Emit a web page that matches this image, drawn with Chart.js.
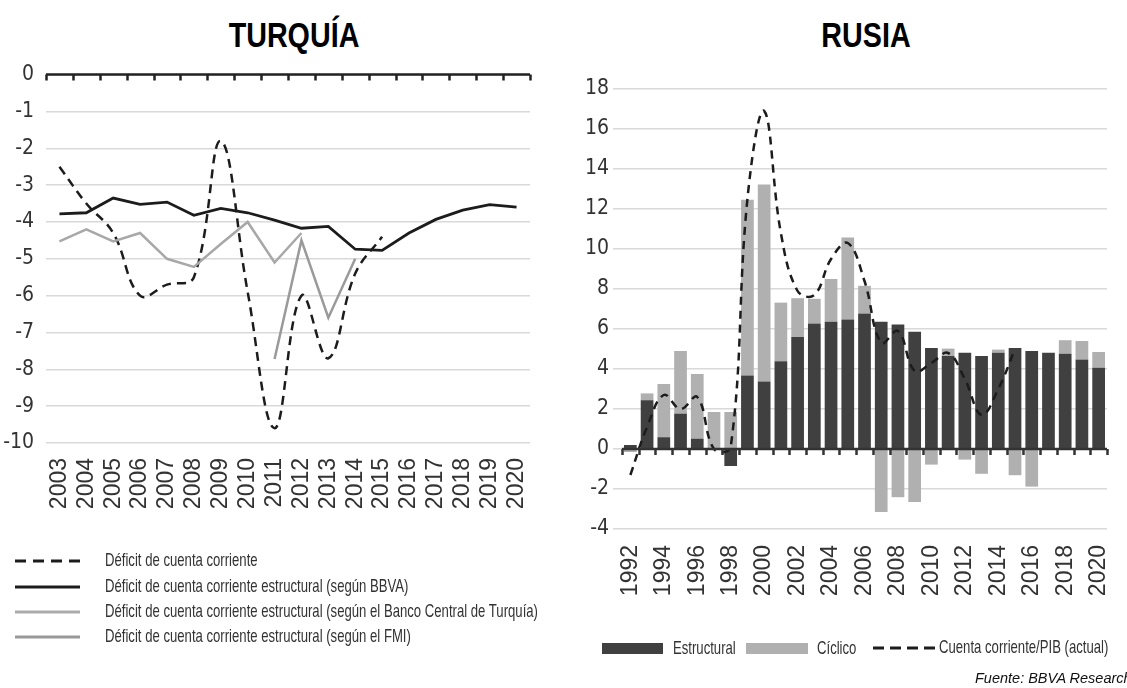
<!DOCTYPE html>
<html>
<head>
<meta charset="utf-8">
<script src="https://cdn.jsdelivr.net/npm/chart.js@4.4.0/dist/chart.umd.min.js"></script>
<style>
  body { margin: 0; background: #fff; }
  #page { position: relative; width: 1127px; height: 688px; overflow: hidden; font-family: "Liberation Sans", Arial, sans-serif; }
  canvas { position: absolute; }
  .title { position: absolute; top: 17px; font: bold 35px/35px "Liberation Sans", Arial, sans-serif; color: #000; white-space: nowrap; transform: translateX(-50%) scaleX(0.82); }
  .leg { position: absolute; font: 18.5px/18px "Liberation Sans", Arial, sans-serif; color: #333; white-space: nowrap; transform-origin: 0 0; transform: scaleX(0.71); }
  .src { position: absolute; left: 975px; top: 671px; font: italic 14.5px/14.5px "Liberation Sans", Arial, sans-serif; color: #111; white-space: nowrap; }
  svg { position: absolute; left: 0; top: 0; }
</style>
</head>
<body>
<div id="page">
  <div class="title" style="left:294px">TURQUÍA</div>
  <div class="title" style="left:866px">RUSIA</div>

  <canvas id="turquia" width="545" height="480" style="left:0;top:50px"></canvas>
  <canvas id="rusia" width="567" height="570" style="left:560px;top:50px"></canvas>

  <svg width="1127" height="688">
    <line x1="15" y1="561" x2="80" y2="561" stroke="#1c1c1c" stroke-width="3" stroke-dasharray="11 7"/>
    <line x1="15" y1="587" x2="80" y2="587" stroke="#1c1c1c" stroke-width="3"/>
    <line x1="15" y1="612" x2="80" y2="612" stroke="#ababab" stroke-width="3"/>
    <line x1="15" y1="637" x2="80" y2="637" stroke="#999" stroke-width="3"/>
    <rect x="602" y="643" width="61" height="11" fill="#404040"/>
    <rect x="746" y="643" width="62" height="11" fill="#b0b0b0"/>
    <line x1="873" y1="648" x2="935" y2="648" stroke="#1c1c1c" stroke-width="3" stroke-dasharray="11 6"/>
  </svg>

  <div class="leg" style="left:105px;top:551px">Déficit de cuenta corriente</div>
  <div class="leg" style="left:105px;top:577px">Déficit de cuenta corriente estructural (según BBVA)</div>
  <div class="leg" style="left:105px;top:602px">Déficit de cuenta corriente estructural (según el Banco Central de Turquía)</div>
  <div class="leg" style="left:105px;top:627px">Déficit de cuenta corriente estructural (según el FMI)</div>

  <div class="leg" style="left:673px;top:639px">Estructural</div>
  <div class="leg" style="left:817px;top:639px">Cíclico</div>
  <div class="leg" style="left:939px;top:638px">Cuenta corriente/PIB (actual)</div>

  <div class="src">Fuente: BBVA Research</div>
</div>

<script>
// Turquía
const turYears = ["2003", "2004", "2005", "2006", "2007", "2008", "2009", "2010", "2011",
  "2012", "2013", "2014", "2015", "2016", "2017", "2018", "2019", "2020"];
const turCuenta = [-2.5, -3.5, -4.3, -6.0, -5.7, -5.5, -1.8, -5.9, -9.6, -6.0, -7.7, -5.4, -4.4,
  null, null, null, null, null];
const turBbva = [-3.78, -3.75, -3.35, -3.52, -3.46, -3.82, -3.63, -3.75, -3.95, -4.17, -4.12,
  -4.74, -4.77, -4.3, -3.93, -3.68, -3.53, -3.6];
const turBancoCentral = [-4.53, -4.2, -4.53, -4.3, -5.0, -5.22, -4.6, -4.0, -5.1, -4.3,
  null, null, null, null, null, null, null, null];
const turFmi = [null, null, null, null, null, null, null, null, -7.72, -4.5, -6.6, -5.0,
  null, null, null, null, null, null];

// Rusia
const rusYears = ["1992", "1993", "1994", "1995", "1996", "1997", "1998", "1999", "2000", "2001",
  "2002", "2003", "2004", "2005", "2006", "2007", "2008", "2009", "2010", "2011", "2012", "2013",
  "2014", "2015", "2016", "2017", "2018", "2019", "2020"];
const rusEstructural = [0.2, 2.44, 0.59, 1.77, 0.52, 0.05, -0.85, 3.67, 3.38, 4.39, 5.6, 6.28,
  6.36, 6.48, 6.78, 6.36, 6.23, 5.86, 5.05, 4.65, 4.81, 4.65, 4.81, 5.05, 4.9, 4.81, 4.76, 4.48, 4.06];
const rusCiclico = [-0.15, 0.34, 2.66, 3.13, 3.23, 1.8, 1.85, 8.79, 9.84, 2.93, 1.94, 1.23, 2.14,
  4.09, 1.38, -3.15, -2.41, -2.65, -0.78, 0.37, -0.53, -1.24, 0.16, -1.31, -1.88, 0, 0.68, 0.92, 0.79];
const rusCuenta = [-1.3, 1.1, 2.7, 2.0, 2.6, 0.0, 0.1, 12.5, 16.9, 10.8, 7.9, 7.7, 9.5, 10.3, 8.4,
  5.3, 5.9, 3.9, 4.3, 4.8, 3.5, 1.7, 3.0, 5.0, null, null, null, null, null];

const narrow = "'Liberation Sans Narrow', 'DejaVu Sans Condensed', 'Liberation Sans', sans-serif";
const gridColor = "#d9d9d9";

Chart.defaults.font.family = "'Liberation Sans', Arial, sans-serif";
Chart.defaults.color = "#333";
Chart.defaults.animation = false;

// dark zero line with tick marks between categories (x labels stay at the bottom)
const zeroAxis = {
  id: "zeroAxis",
  afterDatasetsDraw(chart, args, opts) {
    const { ctx, chartArea } = chart;
    const y0 = chart.scales.y.getPixelForValue(0);
    const n = chart.data.labels.length;
    const step = (chartArea.right - chartArea.left) / n;
    ctx.save();
    ctx.strokeStyle = opts.color;
    ctx.lineWidth = opts.width;
    ctx.beginPath();
    ctx.moveTo(chartArea.left, y0);
    ctx.lineTo(chartArea.right, y0);
    for (let i = 0; i <= n; i++) {
      const x = Math.round(chartArea.left + step * i) + 0.5;
      ctx.moveTo(x, y0);
      ctx.lineTo(x, y0 + opts.tick);
    }
    ctx.stroke();
    ctx.restore();
  },
};

// rotated labels make chart.js reserve side padding; drop it so the plot reaches the edge
function fitXAxis(height) {
  return (s) => {
    s.height = height;
    s.paddingLeft = 0;
    s.paddingRight = 0;
  };
}

new Chart(document.getElementById("turquia"), {
  type: "line",
  data: {
    labels: turYears,
    datasets: [
      { label: "Déficit de cuenta corriente estructural (según el Banco Central de Turquía)",
        data: turBancoCentral, borderColor: "#a8a8a8", borderWidth: 2.5, tension: 0 },
      { label: "Déficit de cuenta corriente estructural (según el FMI)",
        data: turFmi, borderColor: "#9a9a9a", borderWidth: 2.5, tension: 0 },
      { label: "Déficit de cuenta corriente estructural (según BBVA)",
        data: turBbva, borderColor: "#1c1c1c", borderWidth: 2.8, tension: 0 },
      { label: "Déficit de cuenta corriente",
        data: turCuenta, borderColor: "#1c1c1c", borderWidth: 2.5, borderDash: [9, 6], tension: 0.4 },
    ],
  },
  options: {
    responsive: false,
    elements: { point: { radius: 0 } },
    layout: { padding: { top: 24, right: 15, left: 0, bottom: 0 } },
    plugins: {
      legend: { display: false },
      tooltip: { enabled: false },
      zeroAxis: { color: "#222", width: 2.5, tick: 6 },
    },
    scales: {
      x: {
        offset: true,
        grid: { display: false, drawTicks: false },
        border: { display: false },
        ticks: { minRotation: 90, maxRotation: 90, autoSkip: false, padding: 15, font: { size: 23 } },
        afterFit: fitXAxis(87),
      },
      y: {
        min: -10,
        max: 0,
        grid: { color: gridColor, lineWidth: 1.5, drawTicks: false },
        border: { display: false },
        ticks: { stepSize: 1, padding: 12, font: { family: narrow, size: 21 } },
        afterFit: (s) => { s.width = 46; },
      },
    },
  },
  plugins: [zeroAxis],
});

new Chart(document.getElementById("rusia"), {
  type: "bar",
  data: {
    labels: rusYears,
    datasets: [
      { type: "line", label: "Cuenta corriente/PIB (actual)", data: rusCuenta, borderColor: "#1c1c1c",
        borderWidth: 2.5, borderDash: [8, 6], tension: 0.4, pointRadius: 0, order: 0 },
      { label: "Estructural", data: rusEstructural, backgroundColor: "#404040", stack: "s", order: 1 },
      { label: "Cíclico", data: rusCiclico, backgroundColor: "#b0b0b0", stack: "s", order: 2 },
    ],
  },
  options: {
    responsive: false,
    categoryPercentage: 1,
    barPercentage: 0.76,
    layout: { padding: { top: 39, right: 20, left: 0, bottom: 0 } },
    plugins: {
      legend: { display: false },
      tooltip: { enabled: false },
      zeroAxis: { color: "#333", width: 2.5, tick: 6 },
    },
    scales: {
      x: {
        stacked: true,
        grid: { display: false, drawTicks: false },
        border: { display: false },
        ticks: { minRotation: 90, maxRotation: 90, autoSkip: false, padding: 16, font: { size: 23 },
          callback: (v, i) => (i % 2 === 0 ? rusYears[i] : "") },
        afterFit: fitXAxis(91),
      },
      y: {
        stacked: true,
        min: -4,
        max: 18,
        grid: { color: gridColor, lineWidth: 1.5, tickLength: 9 },
        border: { display: false },
        ticks: { stepSize: 2, padding: 4, font: { family: narrow, size: 21 } },
        afterFit: (s) => { s.width = 62; },
      },
    },
  },
  plugins: [zeroAxis],
});
</script>
</body>
</html>
